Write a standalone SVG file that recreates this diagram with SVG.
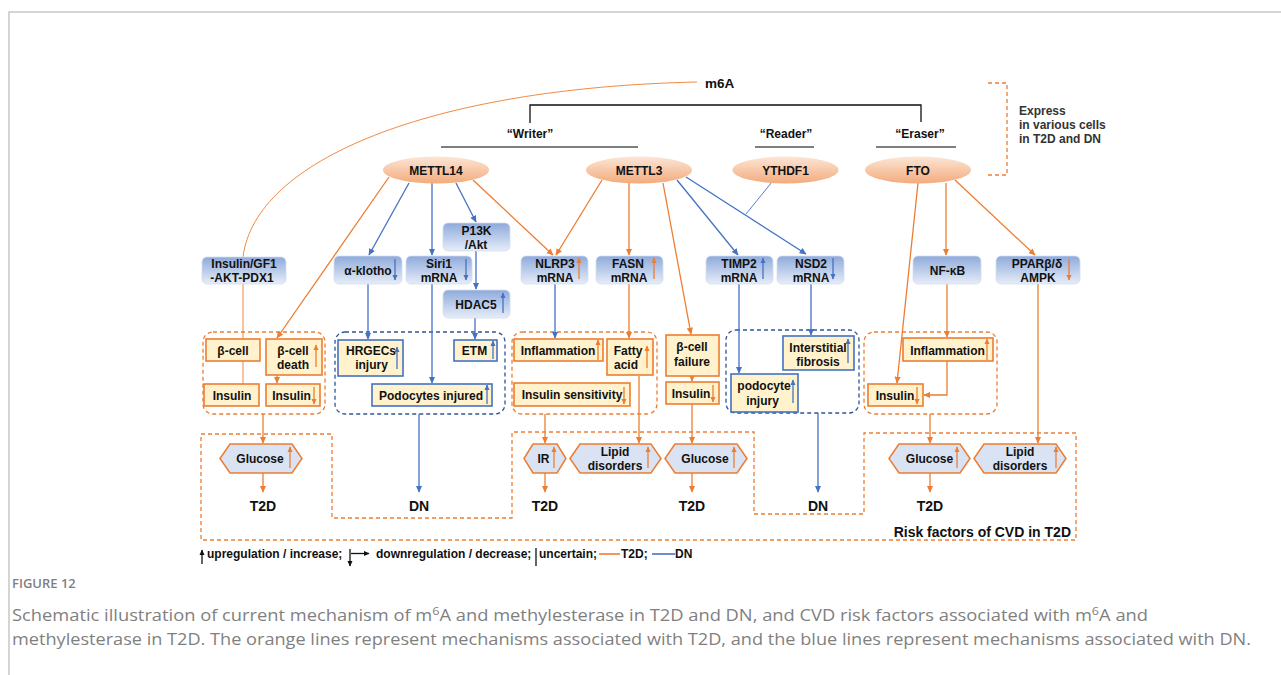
<svg xmlns="http://www.w3.org/2000/svg" width="1281" height="675" viewBox="0 0 1281 675">
<defs>
<linearGradient id="ge" x1="0" y1="0" x2="0" y2="1"><stop offset="0" stop-color="#fce6d6"/><stop offset="1" stop-color="#f3ab7c"/></linearGradient>
<linearGradient id="gb" x1="0" y1="0" x2="0" y2="1"><stop offset="0" stop-color="#8eaadb"/><stop offset="1" stop-color="#e6edf8"/></linearGradient>
<marker id="ao" viewBox="0 0 10 10" refX="9" refY="5" markerWidth="7" markerHeight="7" markerUnits="userSpaceOnUse" orient="auto"><path d="M0,0.5 L10,5 L0,9.5 z" fill="#ed7d31"/></marker>
<marker id="ab" viewBox="0 0 10 10" refX="9" refY="5" markerWidth="7" markerHeight="7" markerUnits="userSpaceOnUse" orient="auto"><path d="M0,0.5 L10,5 L0,9.5 z" fill="#4472c4"/></marker>
<marker id="so" viewBox="0 0 10 10" refX="9" refY="5" markerWidth="6" markerHeight="6" markerUnits="userSpaceOnUse" orient="auto"><path d="M0,0.5 L10,5 L0,9.5 z" fill="#ed7d31"/></marker>
<marker id="sb" viewBox="0 0 10 10" refX="9" refY="5" markerWidth="6" markerHeight="6" markerUnits="userSpaceOnUse" orient="auto"><path d="M0,0.5 L10,5 L0,9.5 z" fill="#4472c4"/></marker>
<marker id="sk" viewBox="0 0 10 10" refX="9" refY="5" markerWidth="6" markerHeight="6" markerUnits="userSpaceOnUse" orient="auto"><path d="M0,0.5 L10,5 L0,9.5 z" fill="#111"/></marker>
</defs>
<style>
.t{font-family:"Liberation Sans",Arial,sans-serif;font-weight:bold;font-size:12px;fill:#111;text-anchor:middle}
.ts{font-family:"Liberation Sans",Arial,sans-serif;font-weight:bold;font-size:12px;fill:#111}
.big{font-size:14px}
.bb{fill:url(#gb);stroke:#d3ddf0;stroke-width:0.8}
.yo{fill:#fff2cc;stroke:#ed7d31;stroke-width:1.6}
.yb{fill:#fff2cc;stroke:#4472c4;stroke-width:1.6}
.hx{fill:#dae3f3;stroke:#ed7d31;stroke-width:1.5}
.el{fill:url(#ge)}
.co{stroke:#ed7d31;stroke-width:1.3;fill:none}
.cb{stroke:#4472c4;stroke-width:1.3;fill:none}
.ao{marker-end:url(#ao)}
.ab{marker-end:url(#ab)}
.io{stroke:#ed7d31;stroke-width:1.3;marker-end:url(#so)}
.ib{stroke:#4472c4;stroke-width:1.3;marker-end:url(#sb)}
.do{fill:none;stroke:#ed7d31;stroke-width:1.3;stroke-dasharray:4 3}
.db{fill:none;stroke:#2f5597;stroke-width:1.3;stroke-dasharray:4 3}
.k{stroke:#111;stroke-width:1.3;fill:none}
.cap{font-family:"Open Sans","Liberation Sans",sans-serif;fill:#7f7f7f}
</style>
<rect x="0" y="0" width="1281" height="675" fill="#ffffff"/>
<path d="M9,675 L9,12 L1281,12" fill="none" stroke="#c8c8c8" stroke-width="1.5"/>

<!-- containers -->
<g id="containers">
<rect x="203" y="332" width="122" height="82" rx="10" class="do"/>
<rect x="335" y="332" width="170" height="82" rx="10" class="db"/>
<rect x="512" y="332" width="145" height="82" rx="10" class="do"/>
<rect x="726" y="330" width="133" height="83" rx="10" class="db"/>
<rect x="864" y="332" width="133" height="82" rx="10" class="do"/>
<path d="M201,434 L332,434 L332,518 L512,518 L512,432 L754,432 L754,514 L864,514 L864,433 L1076,433 L1076,540 L201,540 Z" class="do"/>
<path d="M988,83 L1007,83 L1007,175 L988,175" class="do"/>
</g>

<!-- connectors -->
<g id="connectors">
<path d="M697,82 C430,88 255,160 243,257" stroke="#ed7d31" stroke-width="0.9" fill="none"/>
<line x1="243" y1="284" x2="243" y2="384" stroke="#ed7d31" stroke-width="0.9"/>
<line x1="389" y1="177" x2="277" y2="338" class="co ao"/>
<line x1="473" y1="180" x2="553" y2="255" class="co ao"/>
<line x1="602" y1="180" x2="556" y2="255" class="co ao"/>
<line x1="629" y1="183" x2="629" y2="255" class="co ao"/>
<line x1="663" y1="183" x2="691" y2="334" class="co ao"/>
<line x1="918" y1="183" x2="897" y2="383" class="co ao"/>
<line x1="946" y1="183" x2="946" y2="255" class="co ao"/>
<line x1="955" y1="180" x2="1035" y2="255" class="co ao"/>
<line x1="277" y1="375" x2="277" y2="383" class="co ao"/>
<line x1="629" y1="284" x2="629" y2="338" class="co ao"/>
<line x1="692" y1="376" x2="692" y2="381" class="co ao"/>
<line x1="947" y1="284" x2="947" y2="337" class="co ao"/>
<path d="M947,361 L947,395 L924,395" class="co ao"/>
<line x1="263" y1="414" x2="263" y2="443" class="co ao"/>
<line x1="263" y1="473" x2="263" y2="492" class="co ao"/>
<line x1="545" y1="414" x2="545" y2="443" class="co ao"/>
<line x1="545" y1="473" x2="545" y2="492" class="co ao"/>
<line x1="639" y1="376" x2="639" y2="443" class="co ao"/>
<line x1="692" y1="404" x2="692" y2="443" class="co ao"/>
<line x1="692" y1="473" x2="692" y2="492" class="co ao"/>
<line x1="930" y1="414" x2="930" y2="443" class="co ao"/>
<line x1="930" y1="473" x2="930" y2="492" class="co ao"/>
<line x1="1038" y1="284" x2="1038" y2="443" class="co ao"/>
<line x1="409" y1="183" x2="369" y2="255" class="cb ab"/>
<line x1="432" y1="183" x2="432" y2="255" class="cb ab"/>
<line x1="456" y1="183" x2="476" y2="222" class="cb ab"/>
<line x1="476" y1="251" x2="476" y2="289" class="cb ab"/>
<line x1="475" y1="318" x2="475" y2="339" class="cb ab"/>
<line x1="368" y1="284" x2="368" y2="339" class="cb ab"/>
<line x1="432" y1="284" x2="432" y2="383" class="cb ab"/>
<line x1="555" y1="284" x2="555" y2="338" class="cb ab"/>
<line x1="677" y1="180" x2="738" y2="255" class="cb ab"/>
<line x1="686" y1="177" x2="806" y2="254" class="cb ab"/>
<line x1="772" y1="182" x2="746" y2="214" stroke="#4472c4" stroke-width="0.9"/>
<line x1="739" y1="284" x2="739" y2="373" class="cb ab"/>
<line x1="811" y1="284" x2="811" y2="335" class="cb ab"/>
<line x1="419" y1="414" x2="419" y2="492" class="cb ab"/>
<line x1="818" y1="413" x2="818" y2="492" class="cb ab"/>
</g>

<!-- top labels -->
<g id="n-m6a"><text x="705" y="88" class="ts" style="font-size:13.5px">m6A</text></g>
<g id="bracket">
<path d="M530,123 L530,105 L921,105 L921,122" class="k"/>
</g>
<g id="n-writer"><text x="530" y="138" class="t">“Writer”</text><line x1="441" y1="147" x2="638" y2="147" stroke="#555" stroke-width="1.3"/></g>
<g id="n-reader"><text x="786" y="138" class="t">“Reader”</text><line x1="755" y1="147" x2="814" y2="147" stroke="#555" stroke-width="1.3"/></g>
<g id="n-eraser"><text x="920" y="138" class="t">“Eraser”</text><line x1="876" y1="147" x2="956" y2="147" stroke="#555" stroke-width="1.3"/></g>
<g id="n-express" fill="#333"><text x="1019" y="115" class="ts" style="fill:#333">Express</text><text x="1019" y="129" class="ts" style="fill:#333">in various cells</text><text x="1019" y="143" class="ts" style="fill:#333">in T2D and DN</text></g>

<!-- enzymes -->
<g id="n-mettl14"><ellipse cx="436" cy="170" rx="53" ry="13.5" class="el"/><text x="436" y="174.5" class="t">METTL14</text></g>
<g id="n-mettl3"><ellipse cx="639" cy="170" rx="53" ry="13.5" class="el"/><text x="639" y="174.5" class="t">METTL3</text></g>
<g id="n-ythdf1"><ellipse cx="785.5" cy="170" rx="53" ry="13.5" class="el"/><text x="785.5" y="174.5" class="t">YTHDF1</text></g>
<g id="n-fto"><ellipse cx="918" cy="170" rx="53" ry="13.5" class="el"/><text x="918" y="174.5" class="t">FTO</text></g>

<!-- blue boxes -->
<g id="n-insgf1"><rect x="202" y="257" width="84" height="27" rx="5" class="bb"/><text x="244" y="268" class="t">Insulin/GF1</text><text x="242" y="282" class="t">-AKT-PDX1</text></g>
<g id="n-klotho"><rect x="334" y="256" width="68" height="28" rx="5" class="bb"/><text x="368" y="275" class="t">α-klotho</text><line x1="395" y1="259" x2="395" y2="280" class="ib"/></g>
<g id="n-siri1"><rect x="406" y="256" width="66" height="28" rx="5" class="bb"/><text x="439" y="268" class="t">Siri1</text><text x="439" y="282" class="t">mRNA</text><line x1="466" y1="259" x2="466" y2="280" class="ib"/></g>
<g id="n-pi3k"><rect x="443" y="223" width="67" height="28" rx="5" class="bb"/><text x="476.5" y="235" class="t">P13K</text><text x="476" y="249" class="t">/Akt</text></g>
<g id="n-hdac5"><rect x="443" y="290" width="67" height="28" rx="5" class="bb"/><text x="476" y="309" class="t">HDAC5</text><line x1="503" y1="313" x2="503" y2="293" class="ib"/></g>
<g id="n-nlrp3"><rect x="521" y="256" width="67" height="28" rx="5" class="bb"/><text x="555" y="268" class="t">NLRP3</text><text x="555" y="282" class="t">mRNA</text><line x1="579" y1="279" x2="579" y2="258" class="io"/></g>
<g id="n-fasn"><rect x="596" y="256" width="67" height="28" rx="5" class="bb"/><text x="628" y="268" class="t">FASN</text><text x="629" y="282" class="t">mRNA</text><line x1="654" y1="279" x2="654" y2="258" class="io"/></g>
<g id="n-timp2"><rect x="706" y="256" width="67" height="28" rx="5" class="bb"/><text x="739" y="268" class="t">TIMP2</text><text x="739" y="282" class="t">mRNA</text><line x1="763" y1="279" x2="763" y2="258" class="ib"/></g>
<g id="n-nsd2"><rect x="777" y="256" width="67" height="28" rx="5" class="bb"/><text x="811" y="268" class="t">NSD2</text><text x="811" y="282" class="t">mRNA</text><line x1="833" y1="258" x2="833" y2="279" class="ib"/></g>
<g id="n-nfkb"><rect x="913" y="256" width="68" height="28" rx="5" class="bb"/><text x="947.5" y="275" class="t">NF-κB</text></g>
<g id="n-ppar"><rect x="996" y="256" width="84" height="28" rx="5" class="bb"/><text x="1037" y="268" class="t">PPARβ/δ</text><text x="1038" y="282" class="t">AMPK</text><line x1="1069" y1="259" x2="1069" y2="280" class="io"/></g>

<!-- yellow boxes -->
<g id="n-bcell"><rect x="206" y="339" width="54" height="22" class="yo"/><text x="233" y="355" class="t">β-cell</text></g>
<g id="n-bcelldeath"><rect x="266" y="339" width="56" height="36" class="yo"/><text x="293" y="355" class="t">β-cell</text><text x="293" y="369" class="t">death</text><line x1="316" y1="367" x2="316" y2="345" class="io"/></g>
<g id="n-ins1"><rect x="204" y="384" width="55" height="22" class="yo"/><text x="232" y="400" class="t">Insulin</text></g>
<g id="n-ins2"><rect x="266" y="384" width="54" height="22" class="yo"/><text x="291.5" y="400" class="t">Insulin</text><line x1="314" y1="387" x2="314" y2="404" class="io"/></g>
<g id="n-hrgecs"><rect x="338" y="340" width="65" height="36" class="yb"/><text x="371" y="355" class="t">HRGECs</text><text x="371.5" y="369" class="t">injury</text><line x1="397" y1="369" x2="397" y2="347" class="ib"/></g>
<g id="n-etm"><rect x="454" y="340" width="43" height="21" class="yb"/><text x="474.5" y="355" class="t">ETM</text><line x1="493" y1="359" x2="493" y2="341" class="ib"/></g>
<g id="n-podo"><rect x="372" y="384" width="120" height="22" class="yb"/><text x="431" y="400" class="t">Podocytes injured</text><line x1="487" y1="404" x2="487" y2="385" class="ib"/></g>
<g id="n-infl1"><rect x="514" y="339" width="89" height="22" class="yo"/><text x="558" y="355" class="t">Inflammation</text><line x1="598" y1="360" x2="598" y2="340" class="io"/></g>
<g id="n-fatty"><rect x="607" y="339" width="46" height="36" class="yo"/><text x="628" y="355" class="t">Fatty</text><text x="626" y="369" class="t">acid</text><line x1="647" y1="368" x2="647" y2="346" class="io"/></g>
<g id="n-inssens"><rect x="514" y="383" width="116" height="23" class="yo"/><text x="572" y="399" class="t">Insulin sensitivity</text><line x1="624" y1="387" x2="624" y2="404" class="io"/></g>
<g id="n-bfail"><rect x="666" y="335" width="53" height="41" class="yo"/><text x="692" y="351" class="t">β-cell</text><text x="692" y="365.5" class="t">failure</text></g>
<g id="n-ins3"><rect x="666" y="382" width="53" height="22" class="yo"/><text x="691" y="398" class="t">Insulin</text><line x1="713" y1="385" x2="713" y2="402" class="io"/></g>
<g id="n-interst"><rect x="783" y="336" width="71" height="34" class="yb"/><text x="818" y="351.5" class="t">Interstitial</text><text x="818" y="366" class="t">fibrosis</text><line x1="848" y1="363" x2="848" y2="339" class="ib"/></g>
<g id="n-podinj"><rect x="731" y="374" width="67" height="38" class="yb"/><text x="764" y="389.5" class="t">podocyte</text><text x="762.5" y="404.5" class="t">injury</text><line x1="793" y1="403" x2="793" y2="380" class="ib"/></g>
<g id="n-infl2"><rect x="903" y="338" width="90" height="23" class="yo"/><text x="947.5" y="355" class="t">Inflammation</text><line x1="987" y1="360" x2="987" y2="339" class="io"/></g>
<g id="n-ins4"><rect x="868" y="384" width="55" height="22" class="yo"/><text x="895" y="400" class="t">Insulin</text><line x1="917" y1="387" x2="917" y2="404" class="io"/></g>

<!-- hexagons -->
<g id="n-glu1"><polygon points="220,458.5 230,444 292,444 302,458.5 292,473 230,473" class="hx"/><text x="260" y="463" class="t">Glucose</text><line x1="290" y1="468" x2="290" y2="447" class="io"/></g>
<g id="n-ir"><polygon points="524,458.5 533,444 557,444 566,458.5 557,473 533,473" class="hx"/><text x="543.5" y="463" class="t">IR</text><line x1="554" y1="468" x2="554" y2="447" class="io"/></g>
<g id="n-lip1"><polygon points="570,458.5 580,444 651,444 661,458.5 651,473 580,473" class="hx"/><text x="615" y="456" class="t">Lipid</text><text x="615" y="470" class="t">disorders</text><line x1="648" y1="468" x2="648" y2="447" class="io"/></g>
<g id="n-glu2"><polygon points="665,458.5 675,444 737,444 747,458.5 737,473 675,473" class="hx"/><text x="705" y="463" class="t">Glucose</text><line x1="734" y1="468" x2="734" y2="447" class="io"/></g>
<g id="n-glu3"><polygon points="889,458.5 899,444 960,444 970,458.5 960,473 899,473" class="hx"/><text x="929.5" y="463" class="t">Glucose</text><line x1="957" y1="468" x2="957" y2="447" class="io"/></g>
<g id="n-lip2"><polygon points="974,458.5 984,444 1056,444 1066,458.5 1056,473 984,473" class="hx"/><text x="1020" y="456" class="t">Lipid</text><text x="1020" y="470" class="t">disorders</text><line x1="1056" y1="468" x2="1056" y2="447" class="io"/></g>

<!-- outcomes -->
<g id="n-t2d1"><text x="263" y="511" class="t big">T2D</text></g>
<g id="n-dn1"><text x="419" y="511" class="t big">DN</text></g>
<g id="n-t2d2"><text x="545" y="511" class="t big">T2D</text></g>
<g id="n-t2d3"><text x="692" y="511" class="t big">T2D</text></g>
<g id="n-dn2"><text x="818" y="511" class="t big">DN</text></g>
<g id="n-t2d4"><text x="930" y="511" class="t big">T2D</text></g>
<g id="n-risk"><text x="1071" y="537" class="t big" style="text-anchor:end">Risk factors of CVD in T2D</text></g>

<!-- legend -->
<g id="legend">
<line x1="202" y1="564" x2="202" y2="550" class="k" style="marker-end:url(#sk)"/>
<text x="207" y="558" class="ts">upregulation / increase;</text>
<line x1="350" y1="549" x2="350" y2="566" class="k" style="marker-end:url(#sk)"/>
<line x1="351" y1="553.5" x2="369" y2="553.5" class="k" style="marker-end:url(#sk)"/>
<text x="376" y="558" class="ts">downregulation / decrease;</text>
<line x1="536" y1="548" x2="536" y2="566" class="k"/>
<text x="539" y="558" class="ts">uncertain;</text>
<line x1="599" y1="554" x2="620" y2="554" stroke="#ed7d31" stroke-width="1.6"/>
<text x="621" y="558" class="ts">T2D;</text>
<line x1="652" y1="554" x2="675" y2="554" stroke="#4472c4" stroke-width="1.6"/>
<text x="675" y="558" class="ts">DN</text>
</g>

<!-- caption -->
<g id="caption">
<text x="12" y="588" class="cap" style="font-size:13px;font-weight:600">FIGURE 12</text>
<text x="12" y="621" class="cap" style="font-size:16px" textLength="1136" lengthAdjust="spacingAndGlyphs">Schematic illustration of current mechanism of m<tspan font-size="11" dy="-6">6</tspan><tspan dy="6">A and methylesterase in T2D and DN, and CVD risk factors associated with m</tspan><tspan font-size="11" dy="-6">6</tspan><tspan dy="6">A and</tspan></text>
<text x="12" y="645" class="cap" style="font-size:16px" textLength="1239" lengthAdjust="spacingAndGlyphs">methylesterase in T2D. The orange lines represent mechanisms associated with T2D, and the blue lines represent mechanisms associated with DN.</text>
</g>
</svg>
